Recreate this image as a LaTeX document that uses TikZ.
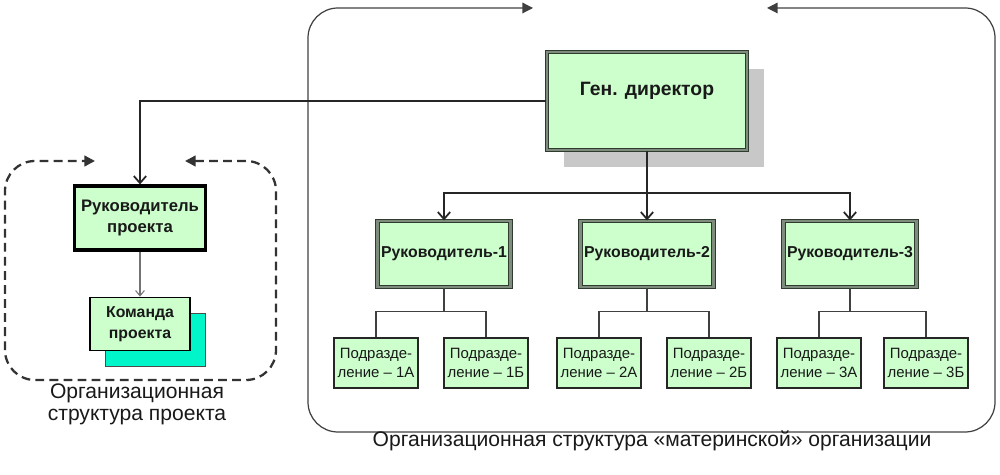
\documentclass[tikz,border=0pt]{standalone}
\usepackage{fontspec}
\setmainfont{Liberation Sans}
\usepackage{tikz}
\usetikzlibrary{arrows.meta,positioning,shadows}

\definecolor{boxgreen}{HTML}{CCFFCC}
\definecolor{borderdark}{HTML}{2E3B2E}
\definecolor{borderinner}{HTML}{7D8C7D}
\definecolor{shadowgray}{HTML}{C8C8C8}
\definecolor{teamcyan}{HTML}{00F5C8}

\begin{document}
\begin{tikzpicture}[
    x=0.02cm, y=-0.02cm,
    headbox/.style={rectangle, draw=borderdark, line width=0.7pt, double=borderinner, double distance=1.2pt, fill=boxgreen, align=center, inner sep=0pt, text=black!90, font=\bfseries\fontsize{9}{11}\selectfont},
    leadbox/.style={rectangle, draw=black, line width=1.8pt, fill=boxgreen, align=center, inner sep=0pt, text=black!90, font=\bfseries\fontsize{9.5}{12.5}\selectfont},
    teambox/.style={rectangle, draw=black, line width=1pt, fill=boxgreen, align=center, inner sep=0pt, text=black!90, font=\bfseries\fontsize{9}{12}\selectfont,
        drop shadow={shadow xshift=0.31cm, shadow yshift=-0.31cm, fill=teamcyan, draw=black!70, line width=0.4pt, opacity=1}},
    unitbox/.style={rectangle, draw=black!85, line width=1pt, fill=boxgreen, align=center, inner sep=0pt, text=black!90, font=\fontsize{8.5}{10.8}\selectfont, minimum width=1.68cm, minimum height=1cm},
    caption/.style={align=center, text=black!90},
    link/.style={line width=1pt, draw=black!85, -{Straight Barb[length=4pt,width=7pt]}},
    bus/.style={line width=1pt, draw=black!85},
    subline/.style={line width=0.6pt, draw=black!75},
    frame/.style={line width=0.7pt, draw=black!75, rounded corners=0.6cm, {Triangle[length=6pt,width=6pt]}-{Triangle[length=6pt,width=6pt]}},
    projframe/.style={line width=1.3pt, draw=black!80, dash pattern=on 5pt off 3pt, rounded corners=0.6cm, {Triangle[length=6pt,width=6pt]}-{Triangle[length=6pt,width=6pt]}}
]
    \useasboundingbox (0,0) rectangle (1000,475);

    % Frames
    \draw[frame] (767,8) -- (995,8) -- (995,432) -- (308,432) -- (308,8) -- (533,8);
    \draw[projframe] (185,161) -- (276,161) -- (276,380) -- (5,380) -- (5,161) -- (95,161);

    % Top of the parent organisation
    \node[headbox, minimum width=4cm, minimum height=1.96cm, text depth=0.5cm, font=\bfseries\fontsize{11}{13}\selectfont,
        drop shadow={shadow xshift=0.34cm, shadow yshift=-0.34cm, fill=shadowgray, opacity=1}] (gen) at (647,101) {Ген. директор};

    % Heads of departments
    \node[headbox, minimum width=2.66cm, minimum height=1.32cm] (r1) at (444,254) {Руководитель-1};
    \node[headbox, minimum width=2.66cm, minimum height=1.32cm] (r2) at (647,254) {Руководитель-2};
    \node[headbox, minimum width=2.66cm, minimum height=1.32cm] (r3) at (850,254) {Руководитель-3};

    % Units
    \node[unitbox] (s1a) at (376,363) {Подразде-\\ление – 1А};
    \node[unitbox] (s1b) at (486,363) {Подразде-\\ление – 1Б};
    \node[unitbox] (s2a) at (599,363) {Подразде-\\ление – 2А};
    \node[unitbox] (s2b) at (709,363) {Подразде-\\ление – 2Б};
    \node[unitbox] (s3a) at (819,363) {Подразде-\\ление – 3А};
    \node[unitbox] (s3b) at (926,363) {Подразде-\\ление – 3Б};

    % Project
    \node[leadbox, minimum width=2.62cm, minimum height=1.28cm] (rp) at (140,218) {Руководитель\\проекта};
    \node[teambox, minimum width=2cm, minimum height=1.06cm] (team) at (140,324) {Команда\\проекта};

    % Captions
    \node[caption, font=\fontsize{12}{12.5}\selectfont] (projlabel) at (137,404) {Организационная\\структура проекта};
    \node[caption, font=\fontsize{12}{13}\selectfont] (orglabel) at (652,441) {Организационная структура «материнской» организации};

    % Arrows
    \coordinate (split) at (647,193);
    \draw[link] (gen.west) -| (rp.north);
    \draw[line width=0.6pt, draw=black!55, -{Straight Barb[length=3pt,width=5pt]}] (rp) -- (team);
    \draw[bus] (gen.south) -- (split);
    \foreach \r in {r1,r2,r3}
        \draw[link] (split) -| (\r.north);
    \foreach \r/\a/\b in {r1/s1a/s1b, r2/s2a/s2b, r3/s3a/s3b} {
        \coordinate (\r-fork) at ([yshift=0.52cm]\a.north);
        \draw[subline] (\a.north) -- (\r-fork) -| (\b.north);
        \draw[subline] (\r.south) -- (\r.south |- \r-fork);
    }

\end{tikzpicture}
\end{document}
